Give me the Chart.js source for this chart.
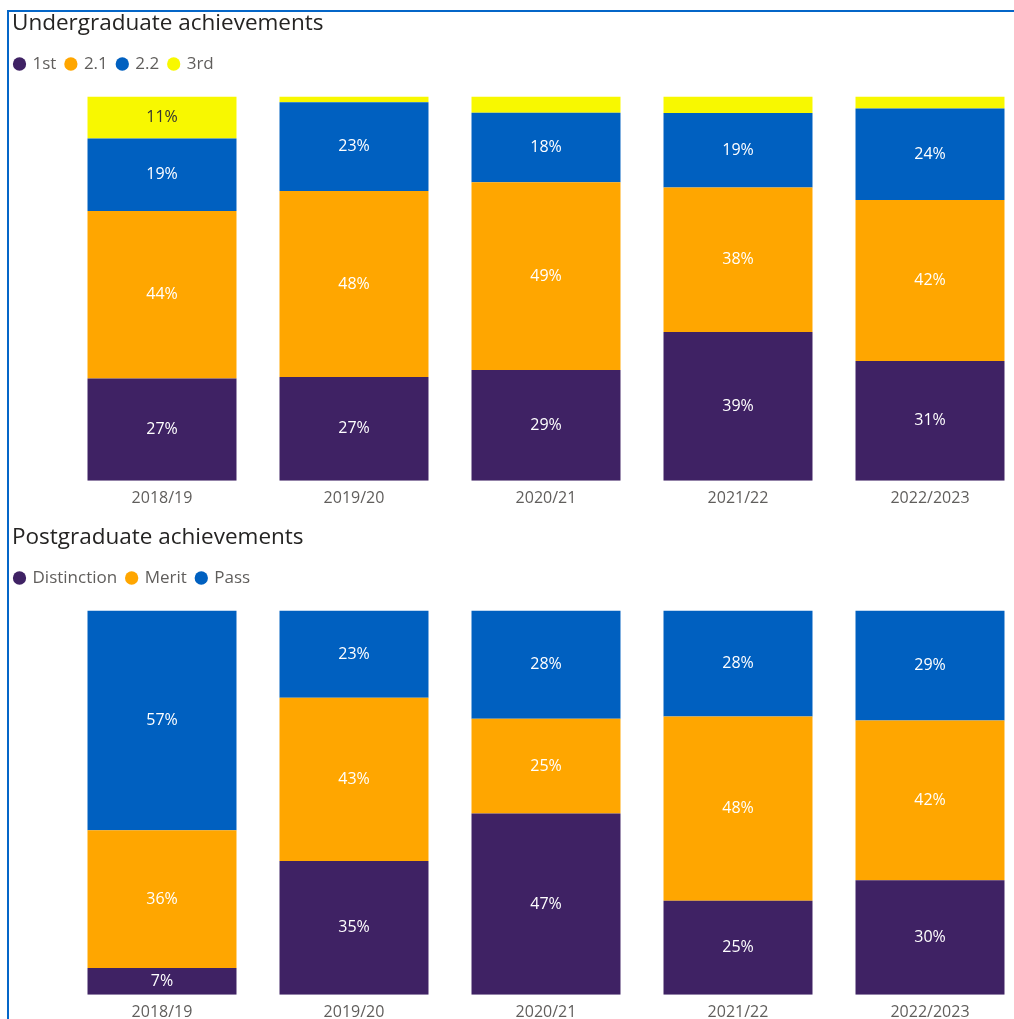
<!DOCTYPE html>
<html lang="en">
<head>
  <meta charset="UTF-8" />
  <title>Achievements</title>
  <script src="https://cdn.jsdelivr.net/npm/chart.js"></script>
  <style>
    html, body { margin: 0; padding: 0; background: #fff; overflow: hidden; width: 1014px; height: 1019px; }
    .frame { position: absolute; left: 7px; top: 10px; width: 1100px; height: 1100px; border-left: 2px solid #0466c8; border-top: 2px solid #0466c8; }
    .title { position: absolute; left: 12px; font-family: 'Open Sans', sans-serif; font-size: 22.5px; line-height: 28px; color: #252423; white-space: nowrap; }
    canvas { position: absolute; left: 0; }
  </style>
</head>
<body>
  <div class="frame"></div>
  <canvas id="ugChart" width="1026" height="516" style="top:0px"></canvas>
  <canvas id="pgChart" width="1026" height="516" style="top:513.5px"></canvas>
  <div class="title" style="top:8px">Undergraduate achievements</div>
  <div class="title" style="top:521.5px">Postgraduate achievements</div>

  <script>
    const years = ['2018/19', '2019/20', '2020/21', '2021/22', '2022/2023'];

    // undergraduate shares (%)
    const ugFirst = [26.6, 27.0, 28.8, 38.7, 31.2];
    const ugUpperSecond = [43.6, 48.4, 48.9, 37.6, 41.9];
    const ugLowerSecond = [18.9, 23.1, 18.1, 19.4, 23.8];
    const ugThird = [10.9, 1.5, 4.2, 4.3, 3.1];

    // postgraduate shares (%)
    const pgDistinction = [7.0, 34.8, 47.2, 24.5, 29.8];
    const pgMerit = [35.8, 42.5, 24.6, 47.9, 41.6];
    const pgPass = [57.2, 22.7, 28.2, 27.6, 28.6];

    const PURPLE = '#3f2264';
    const ORANGE = '#ffa600';
    const BLUE = '#0060c0';
    const YELLOW = '#f8f800';
    const FONT = "'Open Sans', sans-serif";

    // extra space under the legend
    const legendGap = {
      id: 'legendGap',
      beforeInit(chart) {
        const fit = chart.legend.fit;
        chart.legend.fit = function () {
          fit.bind(chart.legend)();
          this.height += 14;
        };
      }
    };

    // percent labels in the middle of each segment
    const segmentLabels = {
      id: 'segmentLabels',
      afterDatasetsDraw(chart) {
        const ctx = chart.ctx;
        ctx.save();
        ctx.font = '16px ' + FONT;
        ctx.textAlign = 'center';
        ctx.textBaseline = 'middle';
        chart.data.datasets.forEach((ds, i) => {
          chart.getDatasetMeta(i).data.forEach((bar, j) => {
            const h = Math.abs(bar.base - bar.y);
            if (h < 20) return;
            ctx.fillStyle = ds.labelColor || '#fff';
            ctx.fillText(Math.round(ds.data[j]) + '%', bar.x, (bar.y + bar.base) / 2);
          });
        });
        ctx.restore();
      }
    };

    function makeChart(id, datasets) {
      return new Chart(document.getElementById(id), {
        type: 'bar',
        data: { labels: years, datasets: datasets },
        options: {
          responsive: false,
          animation: false,
          layout: { padding: { top: 45.5, left: 5, right: 0, bottom: 0 } },
          datasets: { bar: { barPercentage: 0.776, categoryPercentage: 1, borderWidth: 0 } },
          plugins: {
            legend: {
              position: 'top',
              align: 'start',
              labels: {
                usePointStyle: true,
                pointStyle: 'circle',
                boxWidth: 9,
                boxHeight: 9.4,
                padding: 10,
                color: '#605e5c',
                font: { family: FONT, size: 17 }
              }
            },
            tooltip: { enabled: false }
          },
          scales: {
            x: {
              stacked: true,
              grid: { display: false, drawTicks: false },
              border: { display: false },
              ticks: { color: '#605e5c', font: { family: FONT, size: 16 }, padding: 8 }
            },
            y: {
              stacked: true,
              min: 0,
              max: 100,
              grid: { display: false, drawTicks: false },
              border: { display: false },
              ticks: { display: false },
              afterFit(scale) { scale.width = 61; }
            }
          }
        },
        plugins: [legendGap, segmentLabels]
      });
    }

    makeChart('ugChart', [
      { label: '1st', data: ugFirst, backgroundColor: PURPLE },
      { label: '2.1', data: ugUpperSecond, backgroundColor: ORANGE },
      { label: '2.2', data: ugLowerSecond, backgroundColor: BLUE },
      { label: '3rd', data: ugThird, backgroundColor: YELLOW, labelColor: '#333' }
    ]);

    makeChart('pgChart', [
      { label: 'Distinction', data: pgDistinction, backgroundColor: PURPLE },
      { label: 'Merit', data: pgMerit, backgroundColor: ORANGE },
      { label: 'Pass', data: pgPass, backgroundColor: BLUE }
    ]);
  </script>
</body>
</html>
